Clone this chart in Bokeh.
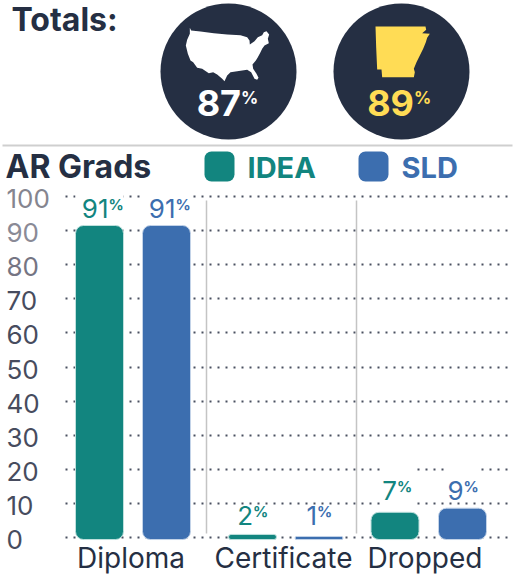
from bokeh.plotting import figure
from bokeh.layouts import column
from bokeh.models import Range1d, FixedTicker
from bokeh.core.properties import value
from bokeh.embed import file_html
from bokeh.resources import INLINE

# ---- data ----
categories = ["Diploma", "Certificate", "Dropped"]
idea_labels = [91, 2, 7]
sld_labels = [91, 1, 9]
idea_heights = [91.5, 0.9, 7.4]
sld_heights = [91.5, 0.3, 8.6]
y_ticks = [0, 10, 20, 30, 40, 50, 60, 70, 80, 90, 100]
total_labels = ["87", "89"]

# ---- styles / positions ----
FONT = "Inter"
NAVY = "#252F43"
TEAL = "#12857F"
BLUE = "#3C6EAF"
YELLOW = "#FFDC55"
y_tick_colors = ["#474c5e", "#474c5e", "#474c5e", "#474c5e", "#474c5e", "#474c5e",
                 "#474c5e", "#474c5e", "#757583", "#8a8a96", "#85858f"]
bar_base = -0.6
idea_x = [99, 252, 394.5]
sld_x = [166, 318.5, 462]
tick_x = [130.5, 283, 424.5]
label_y_idea = [93.3, 3.5, 10.6]
label_y_sld = [93.3, 3.5, 10.6]
split_idea = [9, 0.5, 2]
split_sld = [9, -2, 1]
divider_x = [206, 356]
gap_left = [75, 142, 381, 381, 447]
gap_right = [123, 190, 413, 413, 480]
gap_y = [100, 100, 20, 10, 20]

us_zoom = [(28,22),(32,30),(60,33),(100,38),(140,42),(180,44),(200,50),(207,60),(208,72),(222,62),
           (232,50),(245,44),(250,35),(258,32),(266,42),(262,55),(265,68),(252,75),(245,85),(240,95),
           (232,110),(226,120),(216,132),(218,145),(228,160),(234,172),(230,178),(222,175),(212,155),
           (200,148),(185,150),(170,152),(150,155),(140,165),(132,182),(125,175),(110,162),(98,155),
           (85,158),(65,145),(50,142),(38,125),(30,120),(22,100),(16,75),(20,58),(28,40)]
ar_zoom = [(15,18),(165,18),(167,28),(155,38),(178,40),(170,52),(166,65),(158,85),(148,105),(138,125),
           (130,145),(133,155),(130,170),(35,170),(33,147),(20,147),(17,80)]

H_HEAD = 192
CHART_TOP = 172
W = 514
BASE_K = -0.4  # baseline correction, in em


def base_off(size):
    return BASE_K * size


# ---- header ----
head = figure(width=W, height=H_HEAD, x_range=Range1d(0, W), y_range=Range1d(H_HEAD, 0),
              output_backend="svg", toolbar_location=None, min_border=0,
              x_axis_location=None, y_axis_location=None, outline_line_color=None)
head.grid.visible = False
head.segment([2], [145], [512], [145], line_color="#cfcfcf", line_width=2)
head.text([11], [32], ["Totals:"], text_font=value(FONT), text_font_style="bold",
          text_font_size="32px", text_color=NAVY, text_baseline="alphabetic", y_offset=base_off(32))
head.circle([228, 401], [71, 71], radius=68, fill_color=NAVY, line_color=None)
head.patch([180 + a / 3 for a, b in us_zoom], [20 + b / 3 for a, b in us_zoom], fill_color="white", line_color=None)
head.patch([370 + a / 3 for a, b in ar_zoom], [20 + b / 3 for a, b in ar_zoom], fill_color=YELLOW, line_color=None)
for cx, t, col in zip([240.5, 413.5], total_labels, ["white", YELLOW]):
    head.text([cx], [117], [t], text_font=value(FONT), text_font_style="bold", text_font_size="36px",
              text_color=col, text_align="right", text_baseline="alphabetic", y_offset=base_off(36))
    head.text([cx], [104], ["%"], text_font=value(FONT), text_font_style="bold", text_font_size="17px",
              text_color=col, text_align="left", text_baseline="alphabetic", y_offset=base_off(17))
head.text([5], [179], ["AR Grads"], text_font=value(FONT), text_font_style="bold", text_font_size="32px",
          text_color=NAVY, text_baseline="alphabetic", y_offset=base_off(32))
head.quad([204, 358], [234, 388], [181, 181], [151, 151], fill_color=[TEAL, BLUE], line_color=None, border_radius=7)
head.text([247, 401], [179, 179], ["IDEA", "SLD"], text_font=value(FONT), text_font_style="bold",
          text_font_size="29px", text_color=[TEAL, BLUE], text_baseline="alphabetic", y_offset=base_off(29))

# ---- chart ----
px = 3.41
y_top = (537 - CHART_TOP) / px
y_bot = -(552 - 537) / px
p = figure(width=W, height=581 - CHART_TOP, frame_width=W, frame_height=552 - CHART_TOP,
           x_range=Range1d(0, W), y_range=Range1d(y_bot, y_top),
           output_backend="svg", toolbar_location=None, min_border=0, outline_line_color=None,
           y_axis_location=None, background_fill_alpha=0, border_fill_alpha=0,
           margin=(CHART_TOP - H_HEAD, 0, 0, 0))
p.xgrid.visible = False
g = p.ygrid[0]
g.ticker = FixedTicker(ticks=y_ticks)
g.grid_line_color = "#4a5060"
g.grid_line_dash = "2 6"
g.grid_line_width = 2
if "cross_bounds" in g.properties():
    g.cross_bounds = (65, 510)
else:
    p.quad([0, 510], [65, W], [101, 101], [-1, -1], fill_color="white", line_color=None)

ax = p.xaxis[0]
ax.ticker = FixedTicker(ticks=tick_x)
ax.major_label_overrides = dict(zip(tick_x, categories))
ax.major_label_text_font = FONT
ax.major_label_text_font_size = "28px"
ax.major_label_text_color = NAVY
ax.axis_line_color = None
ax.major_tick_line_color = None
ax.minor_tick_line_color = None
ax.major_label_standoff = -18

p.quad(gap_left, gap_right, [v + 0.6 for v in gap_y], [v - 0.6 for v in gap_y], fill_color="white", line_color=None)
p.segment(divider_x, [1.2, 1.2], divider_x, [98.8, 98.8], line_color="#c4c4c4", line_width=1.5)
p.vbar(idea_x, 48, idea_heights, bar_base, fill_color=TEAL, line_color="#bfe0dd", line_width=1, border_radius=8)
p.vbar(sld_x, 48, sld_heights, bar_base, fill_color=BLUE, line_color="#c3d3e8", line_width=1, border_radius=8)

for xs, ys, labs, split, col in [(idea_x, label_y_idea, idea_labels, split_idea, TEAL),
                                 (sld_x, label_y_sld, sld_labels, split_sld, BLUE)]:
    sx = [a + b for a, b in zip(xs, split)]
    p.text(sx, ys, [str(v) for v in labs], text_font=value(FONT), text_font_size="26px", text_color=col,
           text_align="right", text_baseline="alphabetic", y_offset=base_off(26))
    p.text(sx, [y + 2.5 for y in ys], ["%"] * 3, text_font=value(FONT), text_font_style="bold", text_font_size="15px",
           text_color=col, text_align="left", text_baseline="alphabetic", y_offset=base_off(15))

p.text([6] * len(y_ticks), y_ticks, [str(v) for v in y_ticks], text_font=value(FONT), text_font_size="26px",
       text_color=y_tick_colors, text_align="left", text_baseline="middle", y_offset=2)

page = column(head, p, spacing=0, styles={"position": "absolute", "left": "0px", "top": "0px"})
open("out.html", "w").write(file_html(page, INLINE))
